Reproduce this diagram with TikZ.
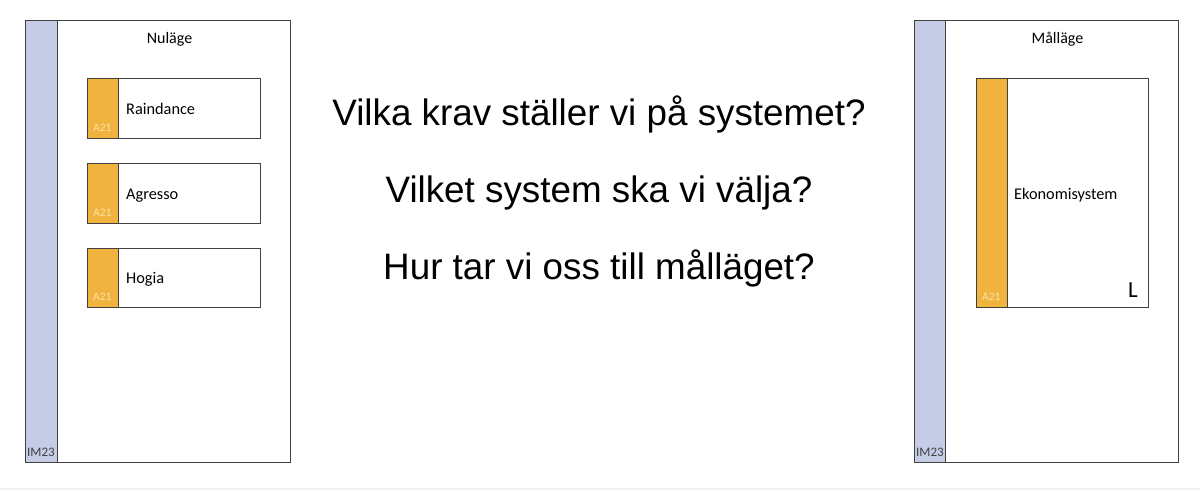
\documentclass[tikz,border=0pt]{standalone}
\usepackage{fontspec}
\setmainfont{Carlito}
\newfontfamily\arialfont{Liberation Sans}
\definecolor{stripblue}{HTML}{C5CCE6}
\definecolor{stripgold}{HTML}{F0B33F}
\definecolor{edgegray}{HTML}{404040}
\definecolor{tagtext}{HTML}{FBE3A8}
\tikzset{
  panel/.style={draw=edgegray, line width=1.1pt, fill=white, rectangle, inner sep=0pt, anchor=north west},
  bluestrip/.style={draw=edgegray, line width=1.1pt, fill=stripblue, rectangle, inner sep=0pt, anchor=north west},
  sysbox/.style={draw=edgegray, line width=0.9pt, fill=white, rectangle, inner sep=0pt, anchor=north west},
  goldstrip/.style={draw=edgegray, line width=0.9pt, fill=stripgold, rectangle, inner sep=0pt, anchor=north west},
  lbl/.style={inner sep=0pt, anchor=base west, font=\fontsize{16.3}{19}\selectfont},
  title/.style={inner sep=0pt, anchor=base, font=\fontsize{16}{19}\selectfont},
  tag/.style={inner sep=0pt, anchor=base west, text=tagtext, font=\fontsize{11.5}{13}\selectfont},
  imtag/.style={inner sep=0pt, anchor=base west, text=edgegray, font=\fontsize{13}{15}\selectfont},
  question/.style={inner sep=0pt, anchor=base, font=\arialfont\fontsize{36.8}{40}\selectfont}
}
\begin{document}
\begin{tikzpicture}[x=1pt,y=-1pt]
\useasboundingbox (0,0) rectangle (1200,490);
\fill[white] (0,0) rectangle (1200,490);
\fill[black!6] (0,488) rectangle (1200,490);

% left panel
\node[panel, minimum width=265pt, minimum height=442pt] (lp) at (25,20) {};
\node[bluestrip, minimum width=32pt, minimum height=442pt] (lb) at (25,20) {};
\node[imtag] (lim) at (27,456) {IM23};
\node[title] (nul) at (169.5,43) {Nuläge};

\node[sysbox, minimum width=173pt, minimum height=60pt] (b1) at (87,78) {};
\node[goldstrip, minimum width=31pt, minimum height=60pt] (g1) at (87,78) {};
\node[lbl] (t1) at (126,114) {Raindance};
\node[tag] (a1) at (93,131) {A21};

\node[sysbox, minimum width=173pt, minimum height=60pt] (b2) at (87,163) {};
\node[goldstrip, minimum width=31pt, minimum height=60pt] (g2) at (87,163) {};
\node[lbl] (t2) at (126,199) {Agresso};
\node[tag] (a2) at (93,216) {A21};

\node[sysbox, minimum width=173pt, minimum height=59pt] (b3) at (87,248) {};
\node[goldstrip, minimum width=31pt, minimum height=59pt] (g3) at (87,248) {};
\node[lbl] (t3) at (126,283) {Hogia};
\node[tag] (a3) at (93,300) {A21};

% questions
\node[question] (q1) at (599,125) {Vilka krav ställer vi på systemet?};
\node[question] (q2) at (599,202) {Vilket system ska vi välja?};
\node[question] (q3) at (599,279) {Hur tar vi oss till målläget?};

% right panel
\node[panel, minimum width=264pt, minimum height=442pt] (rp) at (914,20) {};
\node[bluestrip, minimum width=31pt, minimum height=442pt] (rb) at (914,20) {};
\node[imtag] (rim) at (916,456) {IM23};
\node[title] (mal) at (1057.5,43) {Målläge};

\node[sysbox, minimum width=172pt, minimum height=229pt] (b4) at (976,78) {};
\node[goldstrip, minimum width=31pt, minimum height=229pt] (g4) at (976,78) {};
\node[lbl] (t4) at (1014,199) {Ekonomisystem};
\node[tag] (a4) at (982,300) {A21};
\node[inner sep=0pt, anchor=base west, font=\fontsize{23}{26}\selectfont] (l4) at (1128,297) {L};
\end{tikzpicture}
\end{document}
